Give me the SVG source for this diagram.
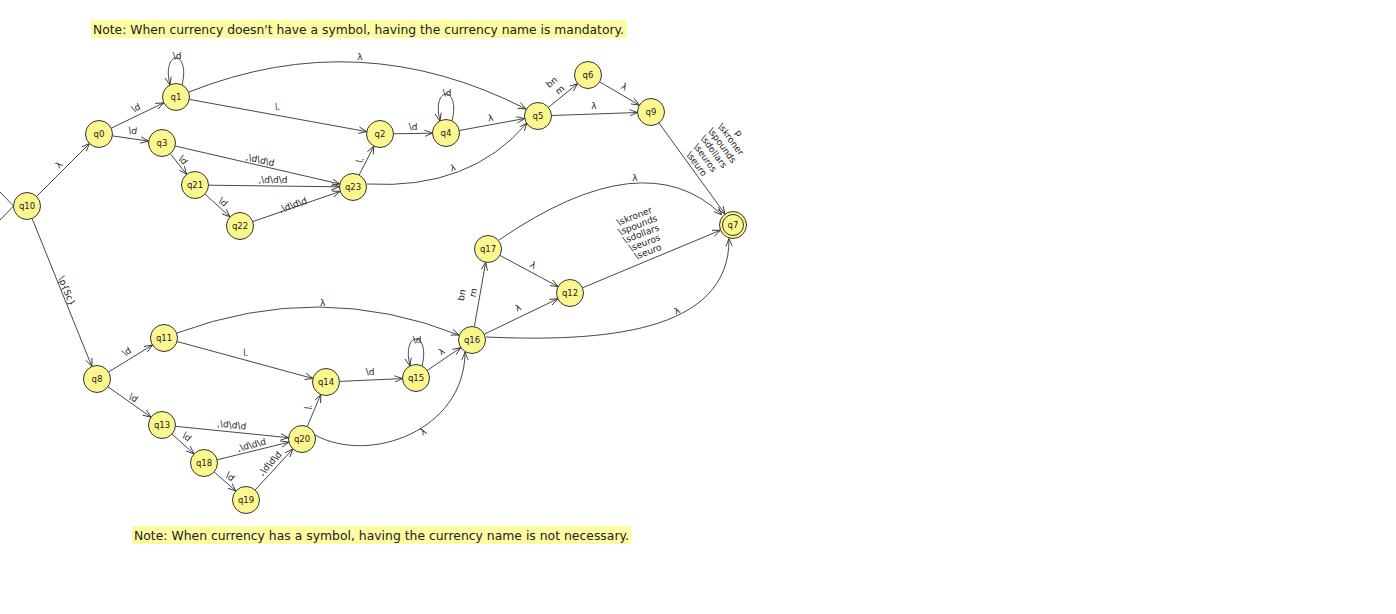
<svg xmlns="http://www.w3.org/2000/svg" width="1396" height="614" viewBox="0 0 1396 614">
<style>
.n circle{fill:#fcf68f;stroke:#333;stroke-width:1}
.n text{font-family:"DejaVu Sans",sans-serif;font-size:8.5px;text-anchor:middle;fill:#222}
.e{fill:none;stroke:#333;stroke-width:0.9;marker-end:url(#ah)}
.s{fill:none;stroke:#333;stroke-width:0.9}
.l{font-family:"DejaVu Sans",sans-serif;font-size:9px;text-anchor:middle;fill:#222}
.note{font-family:"DejaVu Sans",sans-serif;font-size:11.7px;fill:#222}
.hl{fill:#fdfca2}
</style>
<defs>
<marker id="ah" viewBox="0 0 10 10" refX="10" refY="5" markerWidth="8" markerHeight="8" markerUnits="userSpaceOnUse" orient="auto">
<path d="M0,1 L10,5 L0,9" fill="none" stroke="#333" stroke-width="1.1"/>
</marker>
</defs>
<rect width="1396" height="614" fill="#fff"/>

<g id="note1">
<rect class="hl" x="91" y="20" width="536" height="18"/>
<text class="note" x="93" y="33.5" textLength="531" lengthAdjust="spacingAndGlyphs">Note: When currency doesn't have a symbol, having the currency name is mandatory.</text>
</g>
<g id="note2">
<rect class="hl" x="132" y="526" width="499" height="18"/>
<text class="note" x="134" y="539.5" textLength="495" lengthAdjust="spacingAndGlyphs">Note: When currency has a symbol, having the currency name is not necessary.</text>
</g>

<g id="connectors">
<polyline class="s" points="0,192 13.5,206 0,220"/>
<line class="e" x1="36.5" y1="196.5" x2="89.5" y2="143.5"/>
<line class="e" x1="32.1" y1="218.5" x2="91.9" y2="366.5"/>
<line class="e" x1="111.2" y1="128.2" x2="163.8" y2="102.8"/>
<line class="e" x1="112.4" y1="135.9" x2="148.6" y2="141.1"/>
<line class="e" x1="189.3" y1="99.4" x2="366.7" y2="131.6"/>
<line class="e" x1="393.5" y1="133.8" x2="432.5" y2="133.2"/>
<line class="e" x1="459.3" y1="130.5" x2="524.7" y2="118.5"/>
<line class="e" x1="359.1" y1="175" x2="373.9" y2="146"/>
<line class="e" x1="175.1" y1="146" x2="339.8" y2="184"/>
<line class="e" x1="208.5" y1="185.2" x2="339.5" y2="186.8"/>
<line class="e" x1="252.8" y1="221.6" x2="340.2" y2="191.4"/>
<line class="e" x1="170.3" y1="153.6" x2="186.7" y2="174.4"/>
<line class="e" x1="205" y1="194.1" x2="230" y2="216.9"/>
<line class="e" x1="548.4" y1="107.4" x2="577.6" y2="83.6"/>
<line class="e" x1="599.6" y1="81.8" x2="639.4" y2="105.2"/>
<line class="e" x1="551.5" y1="115.5" x2="637.5" y2="112.5"/>
<line class="e" x1="658.9" y1="122.9" x2="725.1" y2="214.1"/>
<line class="e" x1="499.9" y1="255.4" x2="558.1" y2="286.6"/>
<line class="e" x1="582.5" y1="287.8" x2="720.5" y2="230.2"/>
<line class="e" x1="474.3" y1="326.7" x2="485.7" y2="262.3"/>
<line class="e" x1="484.2" y1="334.2" x2="557.8" y2="298.8"/>
<line class="e" x1="108.5" y1="372" x2="152.5" y2="345"/>
<line class="e" x1="108" y1="386.8" x2="151" y2="417.2"/>
<line class="e" x1="177" y1="341.5" x2="313" y2="378.5"/>
<line class="e" x1="175.4" y1="426.3" x2="288.6" y2="437.7"/>
<line class="e" x1="172" y1="434.1" x2="194" y2="453.9"/>
<line class="e" x1="217.1" y1="459.8" x2="288.9" y2="442.2"/>
<line class="e" x1="214.1" y1="471.9" x2="235.9" y2="491.1"/>
<line class="e" x1="255.1" y1="490" x2="292.9" y2="449"/>
<line class="e" x1="307.2" y1="426.6" x2="320.8" y2="394.4"/>
<line class="e" x1="339.5" y1="381.4" x2="402.5" y2="378.6"/>
<line class="e" x1="427.2" y1="370.4" x2="460.8" y2="347.6"/>
<path class="e" d="M189,92 Q360,24 526,109"/>
<path class="e" d="M367,184 Q470,190 527,123"/>
<path class="e" d="M499,240 Q645,140 722,215"/>
<path class="e" d="M486,337 C600,342 730,334 729,238.5"/>
<path class="e" d="M177,333 Q320,280 459,335"/>
<path class="e" d="M315,435 C370,465 465,430 465,352"/>
<path class="e" d="M182,85 C191,49 161,49 170,85"/>
<path class="e" d="M452,121 C461,85 431,85 440,121"/>
<path class="e" d="M422,366 C431,330 401,330 410,366"/>

<text class="l" transform="translate(59,165) rotate(-45)" y="3">λ</text>
<text class="l" transform="translate(66.7,291) rotate(68)" y="3">\p{Sc}</text>
<text class="l" transform="translate(136,108) rotate(-25)" y="3">\d</text>
<text class="l" transform="translate(132.7,130.7) rotate(8)" y="3">\d</text>
<text class="l" x="177" y="59">\d</text>
<text class="l" x="360" y="60">λ</text>
<text class="l" transform="translate(277.7,106.7) rotate(10)" y="3">\.</text>
<text class="l" x="413" y="130">\d</text>
<text class="l" x="447" y="96">\d</text>
<text class="l" transform="translate(490.7,118) rotate(-10)" y="3">λ</text>
<text class="l" transform="translate(360,160) rotate(-63)" y="3">\.</text>
<text class="l" transform="translate(453,168) rotate(-15)" y="3">λ</text>
<text class="l" transform="translate(260,160) rotate(13)" y="3">,\d\d\d</text>
<text class="l" x="273" y="183">,\d\d\d</text>
<text class="l" transform="translate(293,205) rotate(-19)" y="3">,\d\d\d</text>
<text class="l" transform="translate(183,160) rotate(52)" y="3">\d</text>
<text class="l" transform="translate(223,202) rotate(42)" y="3">\d</text>
<text class="l" transform="translate(551.7,82.3) rotate(-40)" y="3">bn</text>
<text class="l" transform="translate(560,90) rotate(-40)" y="3">m</text>
<text class="l" transform="translate(624,87) rotate(30)" y="3">λ</text>
<text class="l" x="594" y="109">λ</text>
<g class="l" transform="translate(696.7,164) rotate(54)">
<text y="-49.5">p</text>
<text y="-39">\skroner</text>
<text y="-28.5">\spounds</text>
<text y="-18">\sdollars</text>
<text y="-7.5">\seuros</text>
<text y="3">\seuro</text>
</g>
<text class="l" x="635" y="181">λ</text>
<g class="l" transform="translate(648,251.7) rotate(-21)">
<text y="-35">\skroner</text>
<text y="-25.5">\spounds</text>
<text y="-16">\sdollars</text>
<text y="-6.5">\seuros</text>
<text y="3">\seuro</text>
</g>
<text class="l" transform="translate(533,265) rotate(28)" y="3">λ</text>
<text class="l" transform="translate(461.7,295) rotate(-80)" y="3">bn</text>
<text class="l" transform="translate(473.3,292.7) rotate(-80)" y="3">m</text>
<text class="l" transform="translate(518,308) rotate(-26)" y="3">λ</text>
<text class="l" transform="translate(677,311) rotate(-25)" y="3">λ</text>
<text class="l" transform="translate(126.7,351.7) rotate(-31)" y="3">\d</text>
<text class="l" transform="translate(133.3,397.7) rotate(35)" y="3">\d</text>
<text class="l" x="322.7" y="306">λ</text>
<text class="l" transform="translate(246,352.7) rotate(15)" y="3">\.</text>
<text class="l" transform="translate(231.7,425) rotate(6)" y="3">,\d\d\d</text>
<text class="l" transform="translate(186.7,436.7) rotate(42)" y="3">\d</text>
<text class="l" transform="translate(251.7,445) rotate(-14)" y="3">,\d\d\d</text>
<text class="l" transform="translate(230,476.7) rotate(41)" y="3">\d</text>
<text class="l" transform="translate(270,463.3) rotate(-47)" y="3">,\d\d\d</text>
<text class="l" transform="translate(308.3,406.7) rotate(-67)" y="3">\.</text>
<text class="l" x="370" y="374.7">\d</text>
<text class="l" x="417" y="343">\d</text>
<text class="l" transform="translate(441.7,351.7) rotate(-34)" y="3">λ</text>
<text class="l" transform="translate(423.3,431.7) rotate(-30)" y="3">λ</text>
</g>

<g id="q10" class="n"><circle cx="27" cy="206" r="13.5"/><text x="27" y="209">q10</text></g>
<g id="q0" class="n"><circle cx="99" cy="134" r="13.5"/><text x="99" y="137">q0</text></g>
<g id="q1" class="n"><circle cx="176" cy="97" r="13.5"/><text x="176" y="100">q1</text></g>
<g id="q3" class="n"><circle cx="162" cy="143" r="13.5"/><text x="162" y="146">q3</text></g>
<g id="q21" class="n"><circle cx="195" cy="185" r="13.5"/><text x="195" y="188">q21</text></g>
<g id="q22" class="n"><circle cx="240" cy="226" r="13.5"/><text x="240" y="229">q22</text></g>
<g id="q23" class="n"><circle cx="353" cy="187" r="13.5"/><text x="353" y="190">q23</text></g>
<g id="q2" class="n"><circle cx="380" cy="134" r="13.5"/><text x="380" y="137">q2</text></g>
<g id="q4" class="n"><circle cx="446" cy="133" r="13.5"/><text x="446" y="136">q4</text></g>
<g id="q5" class="n"><circle cx="538" cy="116" r="13.5"/><text x="538" y="119">q5</text></g>
<g id="q6" class="n"><circle cx="588" cy="75" r="13.5"/><text x="588" y="78">q6</text></g>
<g id="q9" class="n"><circle cx="651" cy="112" r="13.5"/><text x="651" y="115">q9</text></g>
<g id="q7" class="n"><circle cx="733" cy="225" r="13.5"/><circle cx="733" cy="225" r="10.5"/><text x="733" y="228">q7</text></g>
<g id="q17" class="n"><circle cx="488" cy="249" r="13.5"/><text x="488" y="252">q17</text></g>
<g id="q12" class="n"><circle cx="570" cy="293" r="13.5"/><text x="570" y="296">q12</text></g>
<g id="q16" class="n"><circle cx="472" cy="340" r="13.5"/><text x="472" y="343">q16</text></g>
<g id="q8" class="n"><circle cx="97" cy="379" r="13.5"/><text x="97" y="382">q8</text></g>
<g id="q11" class="n"><circle cx="164" cy="338" r="13.5"/><text x="164" y="341">q11</text></g>
<g id="q13" class="n"><circle cx="162" cy="425" r="13.5"/><text x="162" y="428">q13</text></g>
<g id="q18" class="n"><circle cx="204" cy="463" r="13.5"/><text x="204" y="466">q18</text></g>
<g id="q19" class="n"><circle cx="246" cy="500" r="13.5"/><text x="246" y="503">q19</text></g>
<g id="q20" class="n"><circle cx="302" cy="439" r="13.5"/><text x="302" y="442">q20</text></g>
<g id="q14" class="n"><circle cx="326" cy="382" r="13.5"/><text x="326" y="385">q14</text></g>
<g id="q15" class="n"><circle cx="416" cy="378" r="13.5"/><text x="416" y="381">q15</text></g>
</svg>
